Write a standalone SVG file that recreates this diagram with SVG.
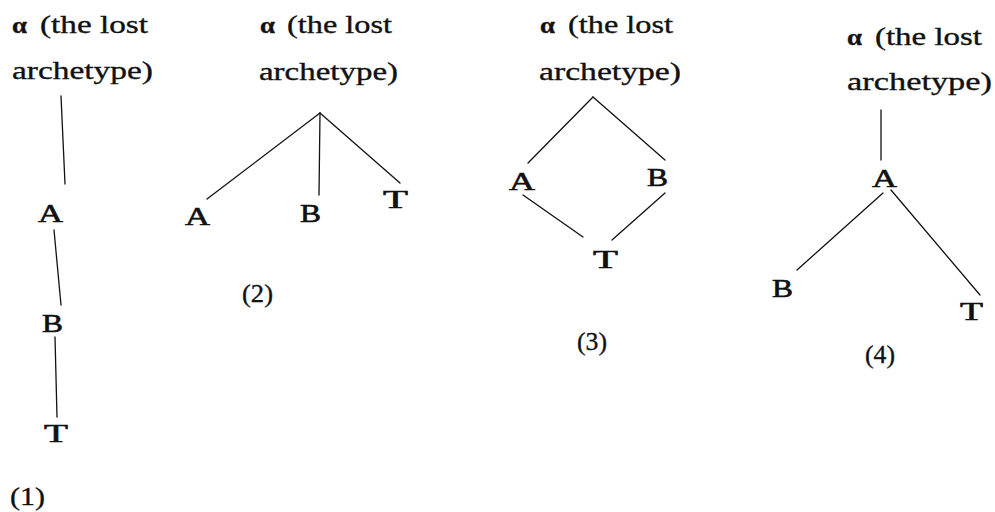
<svg xmlns="http://www.w3.org/2000/svg" width="995" height="512" viewBox="0 0 995 512">
  <style>
    text { font-family: "Liberation Serif", "Times New Roman", serif; font-size: 26px; fill: #111; stroke: #111; stroke-width: 0.35; }
    .alpha { font-weight: bold; font-size: 24px; }
    .node { font-size: 25px; stroke-width: 0.6; }
    .edges line { stroke: #111; stroke-width: 1.3; stroke-linecap: round; }
  </style>
  <rect width="995" height="512" fill="#fff"/>

  <!-- connectors -->
  <g class="edges" id="connectors">
    <!-- tree 1 -->
    <line x1="61" y1="96" x2="65" y2="184"/>
    <line x1="54" y1="230" x2="61" y2="305"/>
    <line x1="55" y1="337" x2="57" y2="417"/>
    <!-- tree 2 -->
    <line x1="320" y1="113" x2="207" y2="199"/>
    <line x1="320" y1="113" x2="319" y2="195"/>
    <line x1="320" y1="113" x2="400" y2="183"/>
    <!-- tree 3 -->
    <line x1="593" y1="97" x2="528" y2="163"/>
    <line x1="593" y1="97" x2="665" y2="160"/>
    <line x1="523" y1="195" x2="583" y2="237"/>
    <line x1="665" y1="193" x2="612" y2="240"/>
    <!-- tree 4 -->
    <line x1="881" y1="110" x2="881" y2="160"/>
    <line x1="883" y1="193" x2="797" y2="270"/>
    <line x1="891" y1="190" x2="980" y2="295"/>
  </g>

  <!-- tree 1 -->
  <g id="t1-alpha">
    <text class="alpha" x="12" y="33" textLength="15" lengthAdjust="spacingAndGlyphs">α</text>
    <text x="40" y="33" textLength="108" lengthAdjust="spacingAndGlyphs">(the lost</text>
    <text x="12" y="79" textLength="141" lengthAdjust="spacingAndGlyphs">archetype)</text>
  </g>
  <g id="t1-A"><text class="node" x="38" y="222" textLength="25" lengthAdjust="spacingAndGlyphs">A</text></g>
  <g id="t1-B"><text class="node" x="42" y="332" textLength="21" lengthAdjust="spacingAndGlyphs">B</text></g>
  <g id="t1-T"><text class="node" x="44" y="442" textLength="24" lengthAdjust="spacingAndGlyphs">T</text></g>
  <g id="t1-label"><text x="10" y="505" textLength="35" lengthAdjust="spacingAndGlyphs">(1)</text></g>

  <!-- tree 2 -->
  <g id="t2-alpha">
    <text class="alpha" x="260" y="33" textLength="15" lengthAdjust="spacingAndGlyphs">α</text>
    <text x="287" y="33" textLength="105" lengthAdjust="spacingAndGlyphs">(the lost</text>
    <text x="259" y="80" textLength="139" lengthAdjust="spacingAndGlyphs">archetype)</text>
  </g>
  <g id="t2-A"><text class="node" x="185" y="225" textLength="25" lengthAdjust="spacingAndGlyphs">A</text></g>
  <g id="t2-B"><text class="node" x="300" y="222" textLength="21" lengthAdjust="spacingAndGlyphs">B</text></g>
  <g id="t2-T"><text class="node" x="383" y="208" textLength="25" lengthAdjust="spacingAndGlyphs">T</text></g>
  <g id="t2-label"><text x="242" y="302" textLength="31" lengthAdjust="spacingAndGlyphs">(2)</text></g>

  <!-- tree 3 -->
  <g id="t3-alpha">
    <text class="alpha" x="540" y="33" textLength="15" lengthAdjust="spacingAndGlyphs">α</text>
    <text x="568" y="33" textLength="105" lengthAdjust="spacingAndGlyphs">(the lost</text>
    <text x="539" y="80" textLength="142" lengthAdjust="spacingAndGlyphs">archetype)</text>
  </g>
  <g id="t3-A"><text class="node" x="509" y="190" textLength="26" lengthAdjust="spacingAndGlyphs">A</text></g>
  <g id="t3-B"><text class="node" x="647" y="186" textLength="21" lengthAdjust="spacingAndGlyphs">B</text></g>
  <g id="t3-T"><text class="node" x="593" y="268" textLength="25" lengthAdjust="spacingAndGlyphs">T</text></g>
  <g id="t3-label"><text x="577" y="350" textLength="30" lengthAdjust="spacingAndGlyphs">(3)</text></g>

  <!-- tree 4 -->
  <g id="t4-alpha">
    <text class="alpha" x="847" y="45" textLength="15" lengthAdjust="spacingAndGlyphs">α</text>
    <text x="875" y="45" textLength="107" lengthAdjust="spacingAndGlyphs">(the lost</text>
    <text x="847" y="90" textLength="145" lengthAdjust="spacingAndGlyphs">archetype)</text>
  </g>
  <g id="t4-A"><text class="node" x="872" y="187" textLength="25" lengthAdjust="spacingAndGlyphs">A</text></g>
  <g id="t4-B"><text class="node" x="772" y="297" textLength="21" lengthAdjust="spacingAndGlyphs">B</text></g>
  <g id="t4-T"><text class="node" x="960" y="320" textLength="23" lengthAdjust="spacingAndGlyphs">T</text></g>
  <g id="t4-label"><text x="865" y="363" textLength="30" lengthAdjust="spacingAndGlyphs">(4)</text></g>
</svg>
